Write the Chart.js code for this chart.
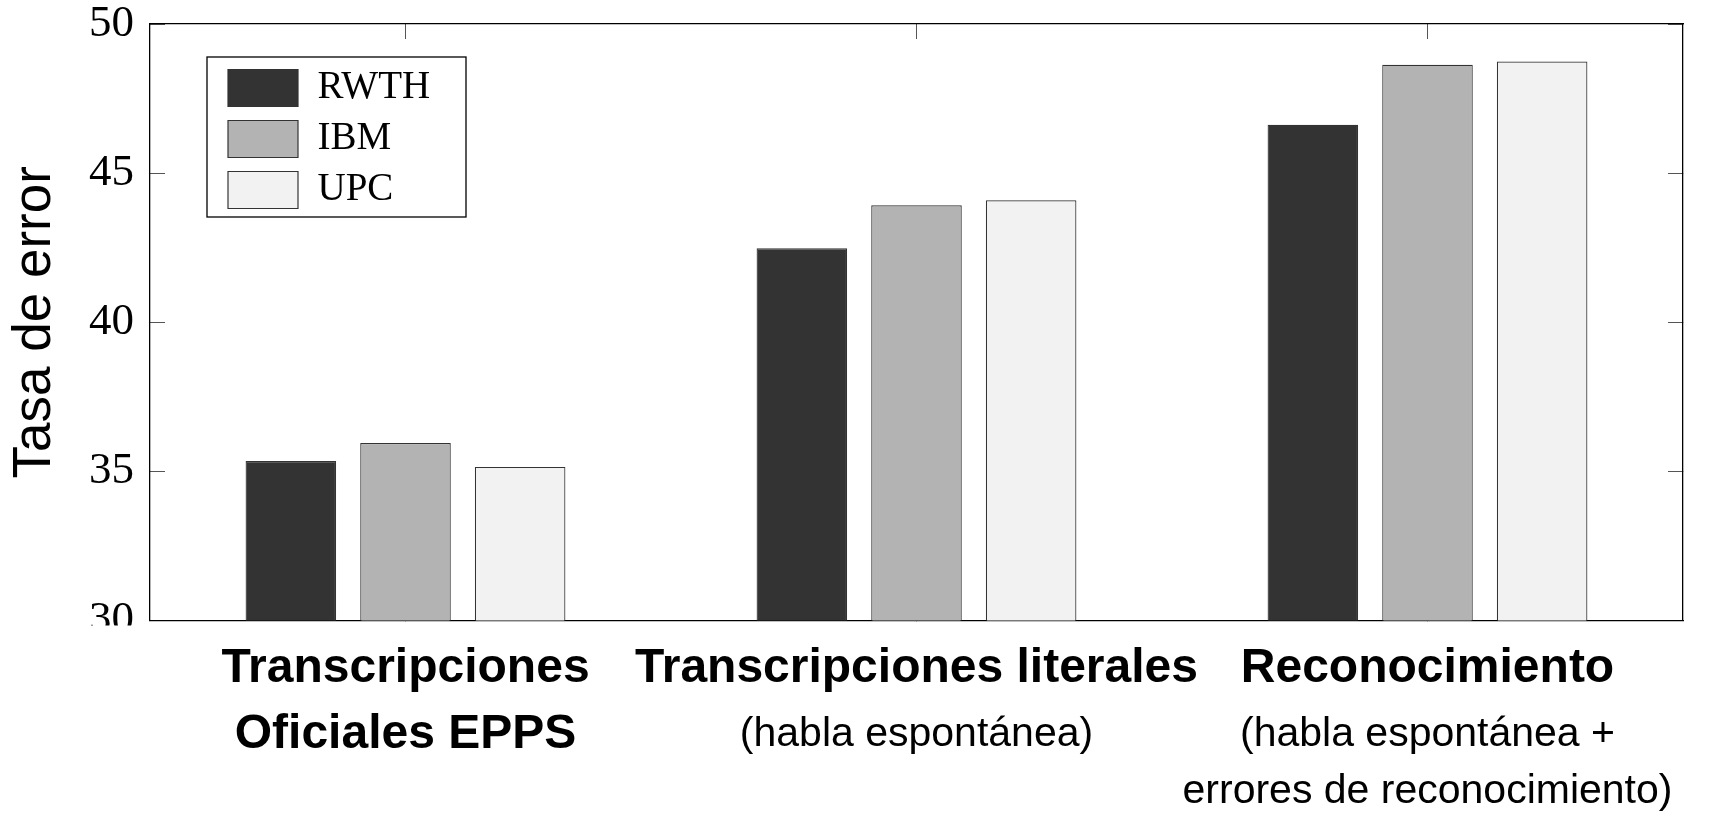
<!DOCTYPE html>
<html>
<head>
<meta charset="utf-8">
<script src="https://cdn.jsdelivr.net/npm/chart.js@4.4.1/dist/chart.umd.min.js"></script>
<style>
  html, body { margin: 0; padding: 0; background: #fff; }
  #wrap { width: 1713px; height: 817px; position: relative; }
</style>
</head>
<body>
<div id="wrap"><canvas id="c"></canvas></div>
<script>
// ---- data ----
const categoriesLine1 = ['Transcripciones', 'Transcripciones literales', 'Reconocimiento'];
const categoriesLine2 = ['Oficiales EPPS', '(habla espontánea)', ['(habla espontánea +', 'errores de reconocimiento)']];
const seriesNames = ['RWTH', 'IBM', 'UPC'];
const rwthValues = [35.35, 42.48, 46.62];
const ibmValues  = [35.95, 43.92, 48.63];
const upcValues  = [35.15, 44.09, 48.74];
const yMin = 30, yMax = 50, yStep = 5;
const yTitle = 'Tasa de error';

const fillColors = ['#333333', '#b3b3b3', '#f2f2f2'];

const legendFramePlugin = {
  id: 'legendFrame',
  afterLayout(chart) {
    const lg = chart.legend, ca = chart.chartArea;
    if (!lg) return;
    lg.left = ca.left + 66;
    lg.top = ca.top + 32.5;
  },
  afterDraw(chart) {
    const ctx = chart.ctx, lg = chart.legend, ca = chart.chartArea;
    ctx.save();
    // legend frame
    ctx.strokeStyle = '#000';
    ctx.lineWidth = 1.3;
    ctx.strokeRect(lg.left - 9, lg.top + 0.5, 259, 160);
    // lower part of the lowest y label is cut off in the original
    ctx.fillStyle = '#fff';
    ctx.fillRect(0, ca.bottom + 5, ca.left - 3, 30);
    ctx.restore();
  }
};

const datasets = [rwthValues, ibmValues, upcValues].map((vals, i) => ({
  label: seriesNames[i],
  data: vals,
  backgroundColor: fillColors[i],
  borderColor: '#333333',
  borderWidth: 1.2,
  categoryPercentage: 0.673,
  barPercentage: 0.79
}));

new Chart(document.getElementById('c'), {
  type: 'bar',
  data: { labels: categoriesLine1, datasets },
  plugins: [legendFramePlugin],
  options: {
    responsive: true,
    maintainAspectRatio: false,
    animation: false,
    devicePixelRatio: 1,
    layout: { padding: 0 },
    plugins: {
      tooltip: { enabled: false },
      legend: {
        position: 'chartArea',
        fullSize: false,
        align: 'start',
        labels: {
          boxWidth: 70,
          boxHeight: 37,
          padding: 12,
          color: '#000',
          font: { family: 'Liberation Serif', size: 39 }
        }
      }
    },
    scales: {
      x: {
        type: 'category',
        position: 'bottom',
        weight: 0,
        offset: true,
        grid: { display: true, drawOnChartArea: false, drawTicks: true, tickLength: -15, offset: false, color: '#555' },
        border: { display: true, color: '#000', width: 1.3 },
        ticks: {
          color: '#000',
          padding: 34,
          maxRotation: 0,
          autoSkip: false,
          font: { family: 'Liberation Sans', size: 48, weight: 'bold', lineHeight: 1.2 }
        },
        afterFit: (s) => { s.height = 80; s.paddingLeft = 0; s.paddingRight = 0; }
      },
      x2: {
        type: 'category',
        position: 'bottom',
        weight: 1,
        labels: categoriesLine2,
        offset: true,
        grid: { display: false, drawTicks: false },
        border: { display: false },
        ticks: {
          color: '#000',
          padding: 6,
          maxRotation: 0,
          autoSkip: false,
          font: (c) => c.index === 0
            ? { family: 'Liberation Sans', size: 48, weight: 'bold', lineHeight: '57px' }
            : { family: 'Liberation Sans', size: 41, weight: 'normal', lineHeight: '57px' }
        },
        afterFit: (s) => { s.height = 116.5; s.paddingLeft = 0; s.paddingRight = 0; }
      },
      xTop: {
        type: 'category',
        position: 'top',
        labels: categoriesLine1,
        offset: true,
        grid: { display: true, drawOnChartArea: false, drawTicks: true, tickLength: -15, offset: false, color: '#555' },
        border: { display: true, color: '#000', width: 1.3 },
        ticks: { display: false },
        afterFit: (s) => { s.height = 24; }
      },
      y: {
        type: 'linear',
        position: 'left',
        min: yMin,
        max: yMax,
        grid: { display: true, drawOnChartArea: false, drawTicks: true, tickLength: -15, color: '#555' },
        border: { display: true, color: '#000', width: 1.3 },
        ticks: {
          stepSize: yStep,
          color: '#000',
          padding: 31,
          font: { family: 'Liberation Serif', size: 45, lineHeight: 1 }
        },
        title: {
          display: true,
          text: yTitle,
          color: '#000',
          padding: { top: 4, bottom: 0 },
          font: { family: 'Liberation Sans', size: 53, lineHeight: 1.2 }
        },
        afterFit: (s) => { s.width = 150; s.paddingTop = 0; s.paddingBottom = 0; }
      },
      y2: {
        type: 'linear',
        position: 'right',
        min: yMin,
        max: yMax,
        grid: { display: true, drawOnChartArea: false, drawTicks: true, tickLength: -15, color: '#555' },
        border: { display: true, color: '#000', width: 1.3 },
        ticks: { display: false, stepSize: yStep },
        afterFit: (s) => { s.width = 30; s.paddingTop = 0; s.paddingBottom = 0; }
      }
    }
  }
});
</script>
</body>
</html>
